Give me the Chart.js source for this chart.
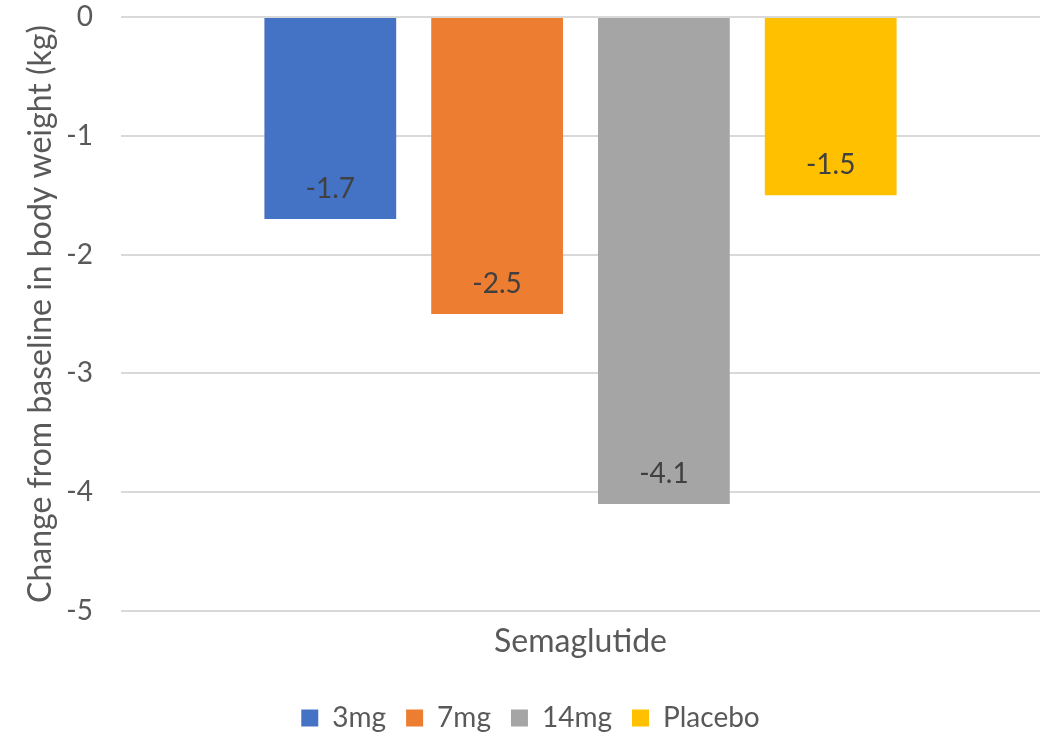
<!DOCTYPE html>
<html>
<head>
<meta charset="utf-8">
<script src="https://cdn.jsdelivr.net/npm/chart.js@4/dist/chart.umd.min.js"></script>
<style>
  html, body { margin: 0; padding: 0; background: #fff; }
  #wrap { width: 1046px; height: 734px; }
</style>
</head>
<body>
<div id="wrap"><canvas id="chart" width="1046" height="734"></canvas></div>
<script>
// ---- data ----
const categories = ['Semaglutide'];
const seriesNames = ['3mg', '7mg', '14mg', 'Placebo'];
const seriesValues = [-1.7, -2.5, -4.1, -1.5];
const seriesColors = ['#4472C4', '#ED7D31', '#A5A5A5', '#FFC000'];
const yTitle = 'Change from baseline in body weight (kg)';

const FONT = 'Lato, "Open Sans", sans-serif';
const GREY = '#595959';

// labels drawn inside the bar end, like Excel's "inside end"
const valueLabels = {
  id: 'valueLabels',
  afterDatasetsDraw(chart) {
    const ctx = chart.ctx;
    ctx.save();
    ctx.font = '28px ' + FONT;
    ctx.fillStyle = '#404040';
    ctx.textAlign = 'center';
    ctx.textBaseline = 'middle';
    chart.data.datasets.forEach((ds, i) => {
      const meta = chart.getDatasetMeta(i);
      meta.data.forEach((bar, j) => {
        ctx.fillText(String(ds.data[j]), bar.x, bar.y - 30);
      });
    });
    ctx.restore();
  }
};

new Chart(document.getElementById('chart'), {
  type: 'bar',
  data: {
    labels: categories,
    datasets: seriesNames.map((name, i) => ({
      label: name,
      data: [seriesValues[i]],
      backgroundColor: seriesColors[i],
      borderWidth: 0,
      categoryPercentage: 0.726,
      barPercentage: 0.79
    }))
  },
  options: {
    responsive: false,
    animation: false,
    layout: { padding: { top: 5, right: 6, left: 21, bottom: -8 } },
    plugins: {
      legend: {
        position: 'bottom',
        labels: {
          font: { family: FONT, size: 28 },
          color: GREY,
          boxWidth: 17,
          boxHeight: 17,
          padding: 20
        }
      },
      tooltip: { enabled: false }
    },
    scales: {
      x: {
        grid: { display: false },
        border: { display: false },
        ticks: { color: GREY, font: { family: FONT, size: 32 }, padding: 3 },
        afterFit: s => { s.height = 73; }
      },
      y: {
        min: -5,
        max: 0,
        ticks: { stepSize: 1, color: GREY, font: { family: FONT, size: 28 }, padding: 28 },
        grid: { color: '#D9D9D9', lineWidth: 2, drawTicks: false },
        border: { display: false },
        title: {
          display: true,
          text: yTitle,
          color: GREY,
          font: { family: FONT, size: 32 },
          padding: { top: 0, bottom: 4 }
        },
        afterFit: s => { s.width = 100; s.paddingTop = 17; s.paddingBottom = 17; }
      }
    }
  },
  plugins: [valueLabels]
});
</script>
</body>
</html>
